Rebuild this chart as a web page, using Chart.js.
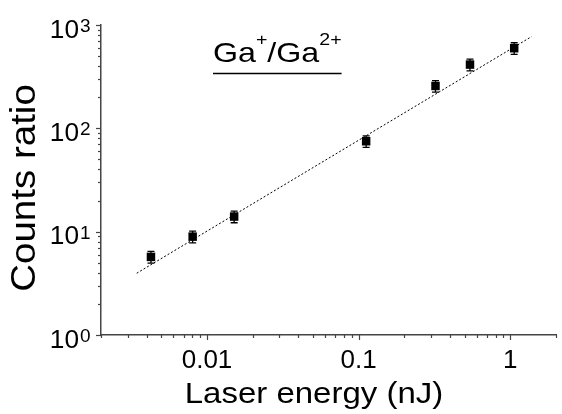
<!DOCTYPE html>
<html lang="en">
<head>
<meta charset="UTF-8">
<title>Ga+/Ga2+ counts ratio vs laser energy</title>
<script src="https://cdn.jsdelivr.net/npm/chart.js"></script>
<style>
  html, body { margin: 0; padding: 0; background: #fff; }
  #wrap { width: 562px; height: 414px; position: relative; }
</style>
</head>
<body>
<div id="wrap"><canvas id="ratioChart"></canvas></div>
<script>
// measured points: laser energy (nJ) vs Ga+/Ga2+ counts ratio
const laserEnergy = [0.00427, 0.00804, 0.0151, 0.112, 0.321, 0.542, 1.06];
const countsRatio = [5.7, 8.95, 14.0, 75, 257, 414, 596];
const ratioError  = [0.75, 1.15, 1.8, 9.5, 33, 54, 77];

// power-law fit (dotted line), end points
const fitEnergy = [0.00344, 1.38];
const fitRatio  = [3.96, 772];

// axis ticks
const xTicks = [0.01, 0.1, 1];
const xTickLabels = ['0.01', '0.1', '1'];
const yTicks = [1, 10, 100, 1000];
const yTickExponents = ['0', '1', '2', '3'];

const FONT = "'Liberation Sans', Arial, Helvetica, sans-serif";
const AXIS_COLOR = '#444';

// draw text with a small horizontal stretch (the original font runs wide)
function drawText(ctx, str, x, y, size, align, sx) {
    ctx.save();
    ctx.font = size + 'px ' + FONT;
    ctx.textBaseline = 'alphabetic';
    ctx.textAlign = align;
    ctx.translate(x, y);
    ctx.scale(sx || 1, 1);
    ctx.fillText(str, 0, 0);
    ctx.restore();
}
function textWidth(ctx, str, size, sx) {
    ctx.save();
    ctx.font = size + 'px ' + FONT;
    const w = ctx.measureText(str).width * (sx || 1);
    ctx.restore();
    return w;
}

// minor/major ticks, labels, error bars and the title
const decorPlugin = {
    id: 'decor',
    beforeDatasetsDraw(chart) {
        const ctx = chart.ctx;
        const xs = chart.scales.x, ys = chart.scales.y;
        ctx.save();
        ctx.strokeStyle = '#000';
        ctx.lineWidth = 1.3;
        laserEnergy.forEach((e, i) => {
            const px = xs.getPixelForValue(e);
            const top = ys.getPixelForValue(countsRatio[i] + ratioError[i]);
            const bot = ys.getPixelForValue(countsRatio[i] - ratioError[i]);
            ctx.beginPath();
            ctx.moveTo(px, top); ctx.lineTo(px, bot);
            ctx.moveTo(px - 3.5, top); ctx.lineTo(px + 3.5, top);
            ctx.moveTo(px - 3.5, bot); ctx.lineTo(px + 3.5, bot);
            ctx.stroke();
        });
        ctx.restore();
    },
    afterDraw(chart) {
        const ctx = chart.ctx;
        const xs = chart.scales.x, ys = chart.scales.y;
        const area = chart.chartArea;
        ctx.save();
        ctx.strokeStyle = AXIS_COLOR;
        ctx.lineWidth = 1.2;

        // x ticks
        for (let d = -3; d <= 0; d++) {
            for (let k = 1; k <= 9; k++) {
                const v = k * Math.pow(10, d);
                if (v < xs.min || v > xs.max) continue;
                const px = Math.round(xs.getPixelForValue(v)) + 0.5;
                const len = k === 1 ? 5 : 3;
                ctx.beginPath();
                ctx.moveTo(px, area.bottom);
                ctx.lineTo(px, area.bottom + len);
                ctx.stroke();
            }
        }
        // y ticks
        for (let d = 0; d <= 3; d++) {
            for (let k = 1; k <= 9; k++) {
                const v = k * Math.pow(10, d);
                if (v < ys.min || v > ys.max) continue;
                const py = Math.round(ys.getPixelForValue(v)) + 0.5;
                const len = k === 1 ? 5 : 3;
                ctx.beginPath();
                ctx.moveTo(area.left, py);
                ctx.lineTo(area.left - len, py);
                ctx.stroke();
            }
        }
        ctx.restore();

        ctx.fillStyle = '#000';
        // x tick labels
        xTicks.forEach((v, i) => {
            drawText(ctx, xTickLabels[i], xs.getPixelForValue(v), 368, 26, 'center', 1);
        });
        // y tick labels 10^n
        yTicks.forEach((v, i) => {
            const py = ys.getPixelForValue(v);
            drawText(ctx, '10', 79, py + 12.5, 25, 'right', 1.05);
            drawText(ctx, yTickExponents[i], 80, py + 7, 19, 'left', 1);
        });

        // axis titles
        drawText(ctx, 'Laser energy (nJ)', 314, 403, 30, 'center', 1.1);
        ctx.save();
        ctx.translate(35, 188);
        ctx.rotate(-Math.PI / 2);
        drawText(ctx, 'Counts ratio', 0, 0, 35, 'center', 1.1);
        ctx.restore();

        // in-plot title Ga+/Ga2+ with underline
        const big = 28, small = 17, sx = 1.15;
        let x = 213;
        const base = 61.5, supBase = 45;
        const parts = [['Ga', big, base], ['+', small, supBase], ['/', big, base], ['Ga', big, base], ['2+', small, supBase]];
        parts.forEach(p => {
            drawText(ctx, p[0], x, p[2], p[1], 'left', sx);
            x += textWidth(ctx, p[0], p[1], sx);
        });
        ctx.save();
        ctx.strokeStyle = '#000';
        ctx.lineWidth = 1.6;
        ctx.beginPath();
        ctx.moveTo(213, 73.5);
        ctx.lineTo(x, 73.5);
        ctx.stroke();
        ctx.restore();
    }
};

const points = laserEnergy.map((e, i) => ({ x: e, y: countsRatio[i] }));
const fitPoints = fitEnergy.map((e, i) => ({ x: e, y: fitRatio[i] }));

new Chart(document.getElementById('ratioChart'), {
    type: 'scatter',
    data: {
        datasets: [{
            label: 'Ga+/Ga2+',
            data: points,
            pointStyle: 'rect',
            pointRadius: 6,
            backgroundColor: '#000',
            borderColor: '#000',
            borderWidth: 0,
            order: 0
        }, {
            label: 'fit',
            type: 'line',
            data: fitPoints,
            showLine: true,
            borderColor: '#000',
            borderWidth: 1,
            borderDash: [2, 2],
            pointRadius: 0,
            fill: false,
            order: 1
        }]
    },
    options: {
        responsive: true,
        maintainAspectRatio: false,
        animation: false,
        events: [],
        layout: { padding: { top: 25, right: 0, bottom: 0, left: 0 } },
        plugins: {
            legend: { display: false },
            tooltip: { enabled: false }
        },
        scales: {
            x: {
                type: 'logarithmic',
                position: 'bottom',
                min: 0.002,
                max: 2,
                ticks: { display: false },
                grid: { display: false, drawTicks: false },
                border: { display: true, color: AXIS_COLOR, width: 1.5 },
                afterFit(scale) { scale.height = 79; }
            },
            y: {
                type: 'logarithmic',
                position: 'left',
                min: 1,
                max: 1000,
                ticks: { display: false },
                grid: { display: false, drawTicks: false },
                border: { display: true, color: AXIS_COLOR, width: 1.5 },
                afterFit(scale) { scale.width = 101; }
            }
        }
    },
    plugins: [decorPlugin]
});
</script>
</body>
</html>
